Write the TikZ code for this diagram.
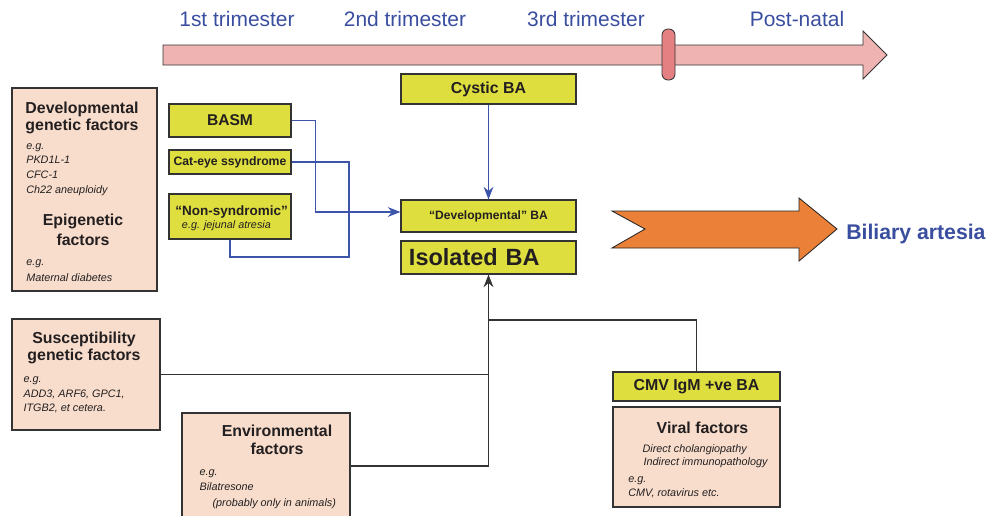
\documentclass[tikz,border=0pt]{standalone}
\usepackage{fontspec}
\setmainfont{Liberation Sans}
\usetikzlibrary{arrows.meta}

\definecolor{boxyellow}{RGB}{222,222,62}
\definecolor{boxpeach}{RGB}{248,221,204}
\definecolor{tlpink}{RGB}{239,180,178}
\definecolor{tlmark}{RGB}{228,128,130}
\definecolor{orangearr}{RGB}{235,128,57}
\definecolor{textblue}{RGB}{58,78,160}
\definecolor{lineblue}{RGB}{60,85,170}
\definecolor{txtgray}{RGB}{35,31,32}

\begin{document}
\begin{tikzpicture}
    [
      x=0.025cm, y=-0.025cm,
      inner sep=0pt,
      every node/.style={text=txtgray},
      ybox/.style={draw=black!80,fill=boxyellow,line width=0.8pt,rectangle},
      pbox/.style={draw=black!80,fill=boxpeach,line width=0.8pt,rectangle},
      boxtitle/.style={font=\bfseries\fontsize{11.3}{11.9}\selectfont,align=center,anchor=base},
      boxnote/.style={font=\itshape\fontsize{7.7}{10.5}\selectfont,align=left,anchor=base west},
      timetext/.style={text=textblue,font=\fontsize{14.9}{16}\selectfont,anchor=base},
      blueline/.style={draw=lineblue,line width=0.8pt},
      bluearrow/.style={-{Stealth[length=9pt,width=7pt,inset=3pt]},draw=lineblue,line width=0.8pt},
      blackline/.style={draw=black!80,line width=0.8pt},
      blackarrow/.style={-{Stealth[length=9pt,width=7pt,inset=3pt]},draw=black!80,line width=0.8pt}
    ]
    \clip (0,0) rectangle (998,515);

    % time line
    \draw [draw=black!80,fill=tlpink,line width=0.6pt] (163,45) -- (863,45) -- (863,31)
      -- (887,55) -- (863,79) -- (863,65) -- (163,65) -- cycle;
    \draw [draw=black!80,fill=tlmark,line width=0.6pt,rounded corners=0.15cm] (662,29) rectangle (675,80);
    \node at (237,26.7) [timetext] (tri1) {1st trimester};
    \node at (405,26.7) [timetext] (tri2) {2nd trimester};
    \node at (586,26.7) [timetext] (tri3) {3rd trimester};
    \node at (797,26.7) [timetext] (postnatal) {Post-natal};

    % boxes
    \node at (84.5,189.5) [pbox,minimum width=3.625cm,minimum height=5.075cm] (devbox) {};
    \node at (230,120.5) [ybox,minimum width=3.05cm,minimum height=0.825cm,
      font=\bfseries\fontsize{11.1}{13}\selectfont] (basm) {BASM};
    \node at (230,162) [ybox,minimum width=3.05cm,minimum height=0.6cm,
      font=\bfseries\fontsize{8.7}{10}\selectfont] (cateye) {Cat-eye ssyndrome};
    \node at (230,216.5) [ybox,minimum width=3.05cm,minimum height=1.125cm] (nonsyn) {};
    \node at (488.5,89) [ybox,minimum width=4.375cm,minimum height=0.75cm,
      font=\bfseries\fontsize{11.3}{13}\selectfont] (cystic) {Cystic BA};
    \node at (488.5,216) [ybox,minimum width=4.375cm,minimum height=0.8cm,
      font=\bfseries\fontsize{8.6}{10}\selectfont] (devba) {“Developmental” BA};
    \node at (488.5,257.5) [ybox,minimum width=4.375cm,minimum height=0.825cm,
      text width=3.975cm,align=left,font=\bfseries\fontsize{16.7}{18}\selectfont] (isolated) {Isolated BA};
    \node at (86,374.5) [pbox,minimum width=3.7cm,minimum height=2.775cm] (suscept) {};
    \node at (266,466) [pbox,minimum width=4.2cm,minimum height=2.65cm] (env) {};
    \node at (696.5,386.5) [ybox,minimum width=4.175cm,minimum height=0.725cm,
      font=\bfseries\fontsize{11.3}{13}\selectfont] (cmv) {CMV IgM +ve BA};
    \node at (696.5,457) [pbox,minimum width=4.175cm,minimum height=2.5cm] (viral) {};

    % texts in the boxes (placed at the baseline of their last line)
    \node at (82,130) [boxtitle] (devtitle) {Developmental\\genetic factors};
    \node at (26,193.3) [boxnote,font=\itshape\fontsize{7.7}{10.5}\selectfont] (devnote) {e.g.\\PKD1L-1\\CFC-1\\Ch22 aneuploidy};
    \node at (83,245) [boxtitle,font=\bfseries\fontsize{11.3}{14.2}\selectfont] (epititle) {Epigenetic\\factors};
    \node at (26,281) [boxnote,font=\itshape\fontsize{7.7}{11}\selectfont] (epinote) {e.g.\\Maternal diabetes};
    \node at (231.7,215) [boxtitle,font=\bfseries\fontsize{9.6}{11}\selectfont] (nonsyntitle) {“Non-syndromic”};
    \node at (181.7,228.3) [boxnote] (nonsynnote) {e.g. jejunal atresia};
    \node at (84,360.7) [boxtitle,font=\bfseries\fontsize{11.3}{12.4}\selectfont] (susctitle) {Susceptibility\\genetic factors};
    \node at (23.3,411.7) [boxnote,font=\itshape\fontsize{7.7}{10.3}\selectfont] (suscnote) {e.g.\\ADD3, ARF6, GPC1,\\ITGB2, et cetera.};
    \node at (277,454) [boxtitle,font=\bfseries\fontsize{11.3}{12.3}\selectfont] (envtitle) {Environmental\\factors};
    \node at (199.3,506) [boxnote,font=\itshape\fontsize{7.7}{10.7}\selectfont] (envnote)
      {e.g.\\Bilatresone\\\hspace*{0.325cm}(probably only in animals)};
    \node at (702.5,433.3) [boxtitle] (viraltitle) {Viral factors};
    \node at (642.3,465.3) [boxnote,font=\itshape\fontsize{7.7}{9}\selectfont] (viralnote)
      {Direct cholangiopathy\\\hspace*{0.7pt}Indirect immunopathology};
    \node at (628,496.7) [boxnote,font=\itshape\fontsize{7.7}{10}\selectfont] (viralex) {e.g.\\CMV, rotavirus etc.};

    % outcome
    \draw [draw=black!85,fill=orangearr,line width=0.6pt] (612,211) -- (799,211) -- (799,198)
      -- (837,229) -- (799,261) -- (799,248) -- (612,248) -- (645,229) -- cycle;
    \node at (846,239.5) [anchor=base west,text=textblue,font=\bfseries\fontsize{15.1}{17}\selectfont] (biliary) {Biliary artesia};

    % connectors
    \coordinate (catjoin) at (349,257);
    \coordinate (cmvjoin) at (488,320);
    \draw [bluearrow] (basm.east) -- ++(24,0) |- ([yshift=0.1cm]devba.west);
    \draw [blueline] (nonsyn.south) |- (catjoin) |- (cateye.east);
    \draw [bluearrow] (cystic) -- (devba);
    \draw [blackarrow] (env.east) -| (isolated.south);
    \draw [blackline] (suscept.east) -- (suscept.east -| isolated.south);
    \draw [blackline] (cmv.north) |- (cmvjoin);
  \end{tikzpicture}
\end{document}
